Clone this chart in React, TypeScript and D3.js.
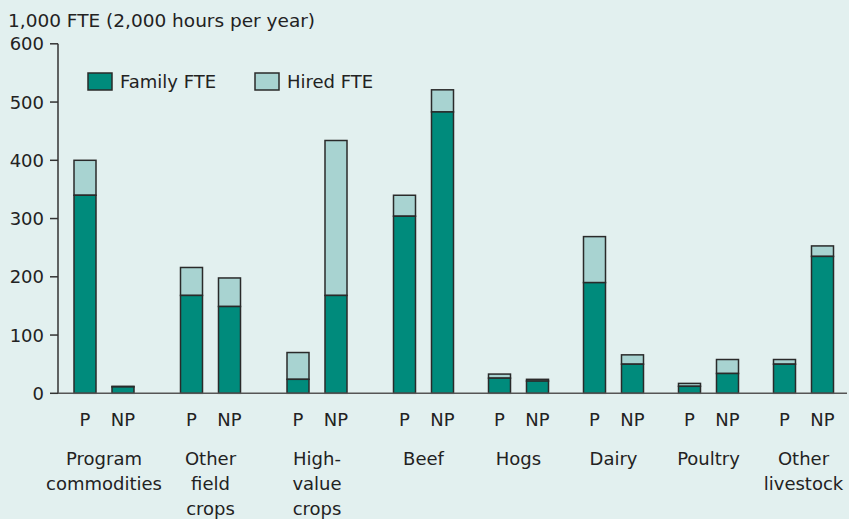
import React from "react";
import * as d3 from "d3";

const categories = [
  "Program\ncommodities",
  "Other\nfield\ncrops",
  "High-\nvalue\ncrops",
  "Beef",
  "Hogs",
  "Dairy",
  "Poultry",
  "Other\nlivestock",
];
const subgroups = ["P", "NP"];
// [P, NP] per category
const familyFTE = [
  [340, 11],
  [168, 149],
  [24, 168],
  [304, 483],
  [26, 21],
  [190, 50],
  [12, 34],
  [50, 235],
];
const hiredFTE = [
  [60, 1],
  [48, 49],
  [46, 266],
  [36, 38],
  [7, 3],
  [79, 16],
  [5, 24],
  [8, 18],
];
const yTicks = [0, 100, 200, 300, 400, 500, 600];
const seriesNames = ["Family FTE", "Hired FTE"];
const yTitle = "1,000 FTE (2,000 hours per year)";

const W = 849;
const H = 519;
const BG = "#e2f0ef";
const FAMILY = "#008b7c";
const HIRED = "#a8d3d1";
const STROKE = "#2a2a2a";
const FONT = "'DejaVu Sans', sans-serif";

export default function App() {
  const y = d3.scaleLinear().domain([0, 600]).range([393.3, 43.8]);
  // group centres (polylinear scale over category index)
  const gx = d3.scaleLinear().domain([0, 3, 7]).range([104, 423.5, 803.5]);
  const x1 = d3
    .scaleBand()
    .domain(subgroups)
    .range([-30, 30])
    .paddingInner(0.421)
    .paddingOuter(0);
  const axisX = 58;

  return (
    <svg
      width={W}
      height={H}
      style={{ position: "absolute", left: 0, top: 0, background: BG, fontFamily: FONT }}
    >
      <rect x={0} y={0} width={W} height={H} fill={BG} />
      <text x={8} y={27} fontSize={18.5} fill="#222">
        {yTitle}
      </text>

      {/* y axis */}
      <line x1={axisX} x2={axisX} y1={y(600)} y2={y(0)} stroke="#333" strokeWidth={1.5} />
      {yTicks.map((t) => (
        <g key={t}>
          <line x1={axisX - 8} x2={axisX} y1={y(t)} y2={y(t)} stroke="#333" strokeWidth={1.5} />
          <text
            x={axisX - 14}
            y={y(t)}
            dy="0.36em"
            textAnchor="end"
            fontSize={18}
            fill="#222"
          >
            {t}
          </text>
        </g>
      ))}

      {/* bars */}
      {categories.map((c, ci) =>
        subgroups.map((s, si) => {
          const bx = gx(ci) + (x1(s) as number);
          const bw = x1.bandwidth();
          const f = familyFTE[ci][si];
          const h = hiredFTE[ci][si];
          return (
            <g key={c + s}>
              <rect
                x={bx}
                y={y(f + h)}
                width={bw}
                height={y(f) - y(f + h)}
                fill={HIRED}
                stroke={STROKE}
                strokeWidth={1.5}
              />
              <rect
                x={bx}
                y={y(f)}
                width={bw}
                height={y(0) - y(f)}
                fill={FAMILY}
                stroke={STROKE}
                strokeWidth={1.5}
              />
              <text
                x={bx + bw / 2}
                y={426}
                textAnchor="middle"
                fontSize={18}
                fill="#222"
              >
                {s}
              </text>
            </g>
          );
        })
      )}

      {/* x axis */}
      <line x1={axisX} x2={847} y1={y(0)} y2={y(0)} stroke="#555" strokeWidth={1.5} />

      {/* category labels */}
      {categories.map((c, ci) => (
        <text
          key={c}
          x={gx(ci)}
          y={465}
          textAnchor="middle"
          fontSize={18}
          fill="#222"
        >
          {c.split("\n").map((line, i) => (
            <tspan key={i} x={gx(ci)} dy={i === 0 ? 0 : 25}>
              {line}
            </tspan>
          ))}
        </text>
      ))}

      {/* legend */}
      {seriesNames.map((n, i) => {
        const lx = i === 0 ? 88 : 255;
        return (
          <g key={n}>
            <rect
              x={lx}
              y={73}
              width={24}
              height={17}
              fill={i === 0 ? FAMILY : HIRED}
              stroke={STROKE}
              strokeWidth={1.5}
            />
            <text x={lx + 32} y={88} fontSize={18} fill="#222">
              {n}
            </text>
          </g>
        );
      })}
    </svg>
  );
}
